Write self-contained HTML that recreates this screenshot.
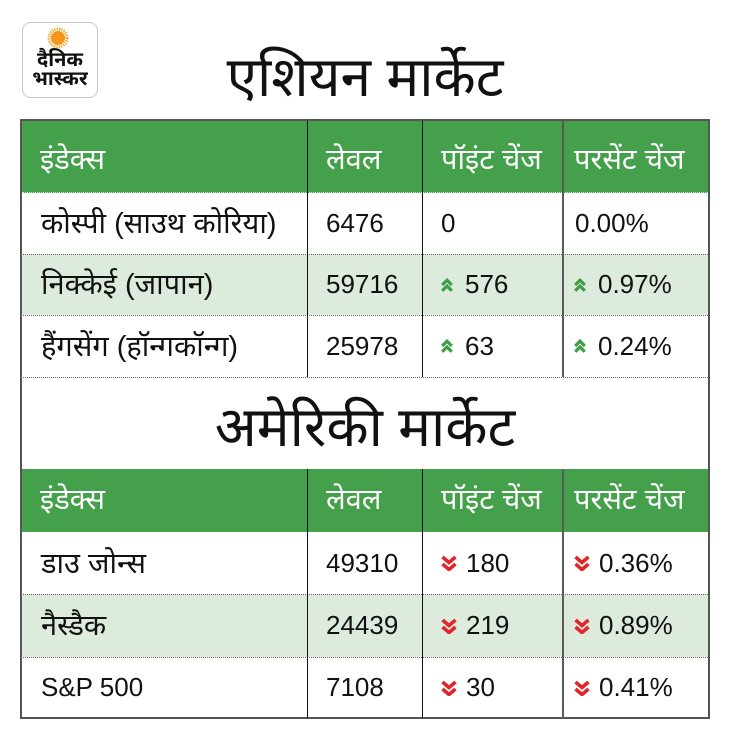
<!DOCTYPE html>
<html><head><meta charset="utf-8"><style>
*{margin:0;padding:0;box-sizing:border-box}
body{width:730px;height:740px;background:#fff;position:relative;overflow:hidden;font-family:"Liberation Sans","Noto Sans Devanagari","Lohit Devanagari","FreeSans","DejaVu Sans",sans-serif;color:#111}
.a{position:absolute}
.hdr{background:#45a04b}
.lg{background:#dcebdc}
.dot{position:absolute;left:21px;width:687px;height:0;border-top:1px dotted #6a6a6a}
.cell{position:absolute;display:flex;align-items:center;font-size:26px;white-space:nowrap}
.dv{font-size:29px;padding-top:5px}
.hc{color:#fff;font-size:29px}
.title{position:absolute;left:20px;width:690px;text-align:center;font-size:55px;color:#111;white-space:nowrap}
.vl{position:absolute;width:1px;background:#111}
.vg{position:absolute;width:2px;background:#5a5a5a}
svg.ar{margin-right:12px;flex:none}
</style></head><body>

<!-- logo -->
<div class="a" style="left:22px;top:22px;width:76px;height:76px;border:1px solid #c8c8c8;border-radius:9px;background:#fff"></div>
<svg class="a" style="left:46px;top:26px" width="24" height="24" viewBox="0 0 24 24">
<circle cx="12" cy="12" r="9" fill="none" stroke="#f7a21b" stroke-width="3" stroke-dasharray="1.2 1.2"/>
<circle cx="12" cy="12" r="7" fill="#f7941d"/>
</svg>
<div class="a" style="left:24px;top:51px;width:72px;text-align:center;font-size:20px;font-weight:bold;line-height:19px;color:#111">दैनिक<br>भास्कर</div>

<!-- titles -->
<div class="title" style="top:44px;line-height:66px">एशियन मार्केट</div>
<div class="title" style="top:394px;line-height:66px">अमेरिकी मार्केट</div>

<!-- outer frame -->
<div class="a" style="left:20px;top:119px;width:690px;height:600px;border:2px solid #555"></div>

<!-- table 1 backgrounds -->
<div class="a hdr" style="left:22px;top:121px;width:686px;height:72px"></div>
<div class="a" style="left:22px;top:192px;width:686px;height:0;border-top:1px dotted #cfe6cf"></div>
<div class="a lg" style="left:22px;top:254px;width:686px;height:61px"></div>
<div class="dot" style="top:254px"></div>
<div class="dot" style="top:315px"></div>
<div class="dot" style="top:377px"></div>

<!-- table 2 backgrounds -->
<div class="a hdr" style="left:22px;top:469px;width:686px;height:63px"></div>
<div class="a lg" style="left:22px;top:594px;width:686px;height:63px"></div>
<div class="dot" style="top:594px"></div>
<div class="dot" style="top:657px"></div>

<!-- column lines -->
<div class="vl" style="left:307px;top:121px;height:256px"></div>
<div class="vl" style="left:422px;top:121px;height:256px"></div>
<div class="vg" style="left:562px;top:121px;height:256px"></div>
<div class="vl" style="left:307px;top:469px;height:249px"></div>
<div class="vl" style="left:422px;top:469px;height:249px"></div>
<div class="vg" style="left:562px;top:469px;height:249px"></div>

<!-- table 1 header -->
<div class="cell hc" style="left:40px;top:126px;height:72px">इंडेक्स</div>
<div class="cell hc" style="left:326px;top:126px;height:72px">लेवल</div>
<div class="cell hc" style="left:441px;top:126px;height:72px">पॉइंट चेंज</div>
<div class="cell hc" style="left:574px;top:126px;height:72px">परसेंट चेंज</div>

<!-- table 1 rows -->
<div class="cell dv" style="left:41px;top:193px;height:61px">कोस्पी (साउथ कोरिया)</div>
<div class="cell" style="left:326px;top:193px;height:61px">6476</div>
<div class="cell" style="left:441px;top:193px;height:61px">0</div>
<div class="cell" style="left:575px;top:193px;height:61px">0.00%</div>

<div class="cell dv" style="left:41px;top:254px;height:61px">निक्केई (जापान)</div>
<div class="cell" style="left:326px;top:254px;height:61px">59716</div>
<div class="cell" style="left:441px;top:254px;height:61px"><svg class="ar" width="12" height="14" viewBox="0 0 12 14"><polyline points="1.2,7 6,2.2 10.8,7" fill="none" stroke="#3d9e46" stroke-width="3.2"/><polyline points="1.2,12.8 6,8 10.8,12.8" fill="none" stroke="#3d9e46" stroke-width="3.2"/></svg>576</div>
<div class="cell" style="left:574px;top:254px;height:61px"><svg class="ar" width="12" height="14" viewBox="0 0 12 14"><polyline points="1.2,7 6,2.2 10.8,7" fill="none" stroke="#3d9e46" stroke-width="3.2"/><polyline points="1.2,12.8 6,8 10.8,12.8" fill="none" stroke="#3d9e46" stroke-width="3.2"/></svg>0.97%</div>

<div class="cell dv" style="left:41px;top:315px;height:62px">हैंगसेंग (हॉन्गकॉन्ग)</div>
<div class="cell" style="left:326px;top:315px;height:62px">25978</div>
<div class="cell" style="left:441px;top:315px;height:62px"><svg class="ar" width="12" height="14" viewBox="0 0 12 14"><polyline points="1.2,7 6,2.2 10.8,7" fill="none" stroke="#3d9e46" stroke-width="3.2"/><polyline points="1.2,12.8 6,8 10.8,12.8" fill="none" stroke="#3d9e46" stroke-width="3.2"/></svg>63</div>
<div class="cell" style="left:574px;top:315px;height:62px"><svg class="ar" width="12" height="14" viewBox="0 0 12 14"><polyline points="1.2,7 6,2.2 10.8,7" fill="none" stroke="#3d9e46" stroke-width="3.2"/><polyline points="1.2,12.8 6,8 10.8,12.8" fill="none" stroke="#3d9e46" stroke-width="3.2"/></svg>0.24%</div>

<!-- table 2 header -->
<div class="cell hc" style="left:40px;top:470px;height:63px">इंडेक्स</div>
<div class="cell hc" style="left:326px;top:470px;height:63px">लेवल</div>
<div class="cell hc" style="left:441px;top:470px;height:63px">पॉइंट चेंज</div>
<div class="cell hc" style="left:574px;top:470px;height:63px">परसेंट चेंज</div>

<!-- table 2 rows -->
<div class="cell dv" style="left:41px;top:532px;height:62px">डाउ जोन्स</div>
<div class="cell" style="left:326px;top:532px;height:62px">49310</div>
<div class="cell" style="left:441px;top:532px;height:62px"><svg class="ar" style="margin-right:9px" width="16" height="16" viewBox="0 0 16 16"><polyline points="1.5,2 8,7.5 14.5,2" fill="none" stroke="#e0262b" stroke-width="3.6"/><polyline points="1.5,9 8,14.5 14.5,9" fill="none" stroke="#e0262b" stroke-width="3.6"/></svg>180</div>
<div class="cell" style="left:574px;top:532px;height:62px"><svg class="ar" style="margin-right:9px" width="16" height="16" viewBox="0 0 16 16"><polyline points="1.5,2 8,7.5 14.5,2" fill="none" stroke="#e0262b" stroke-width="3.6"/><polyline points="1.5,9 8,14.5 14.5,9" fill="none" stroke="#e0262b" stroke-width="3.6"/></svg>0.36%</div>

<div class="cell dv" style="left:41px;top:594px;height:63px">नैस्डैक</div>
<div class="cell" style="left:326px;top:594px;height:63px">24439</div>
<div class="cell" style="left:441px;top:594px;height:63px"><svg class="ar" style="margin-right:9px" width="16" height="16" viewBox="0 0 16 16"><polyline points="1.5,2 8,7.5 14.5,2" fill="none" stroke="#e0262b" stroke-width="3.6"/><polyline points="1.5,9 8,14.5 14.5,9" fill="none" stroke="#e0262b" stroke-width="3.6"/></svg>219</div>
<div class="cell" style="left:574px;top:594px;height:63px"><svg class="ar" style="margin-right:9px" width="16" height="16" viewBox="0 0 16 16"><polyline points="1.5,2 8,7.5 14.5,2" fill="none" stroke="#e0262b" stroke-width="3.6"/><polyline points="1.5,9 8,14.5 14.5,9" fill="none" stroke="#e0262b" stroke-width="3.6"/></svg>0.89%</div>

<div class="cell" style="left:41px;top:657px;height:61px">S&amp;P 500</div>
<div class="cell" style="left:326px;top:657px;height:61px">7108</div>
<div class="cell" style="left:441px;top:657px;height:61px"><svg class="ar" style="margin-right:9px" width="16" height="16" viewBox="0 0 16 16"><polyline points="1.5,2 8,7.5 14.5,2" fill="none" stroke="#e0262b" stroke-width="3.6"/><polyline points="1.5,9 8,14.5 14.5,9" fill="none" stroke="#e0262b" stroke-width="3.6"/></svg>30</div>
<div class="cell" style="left:574px;top:657px;height:61px"><svg class="ar" style="margin-right:9px" width="16" height="16" viewBox="0 0 16 16"><polyline points="1.5,2 8,7.5 14.5,2" fill="none" stroke="#e0262b" stroke-width="3.6"/><polyline points="1.5,9 8,14.5 14.5,9" fill="none" stroke="#e0262b" stroke-width="3.6"/></svg>0.41%</div>

</body></html>
